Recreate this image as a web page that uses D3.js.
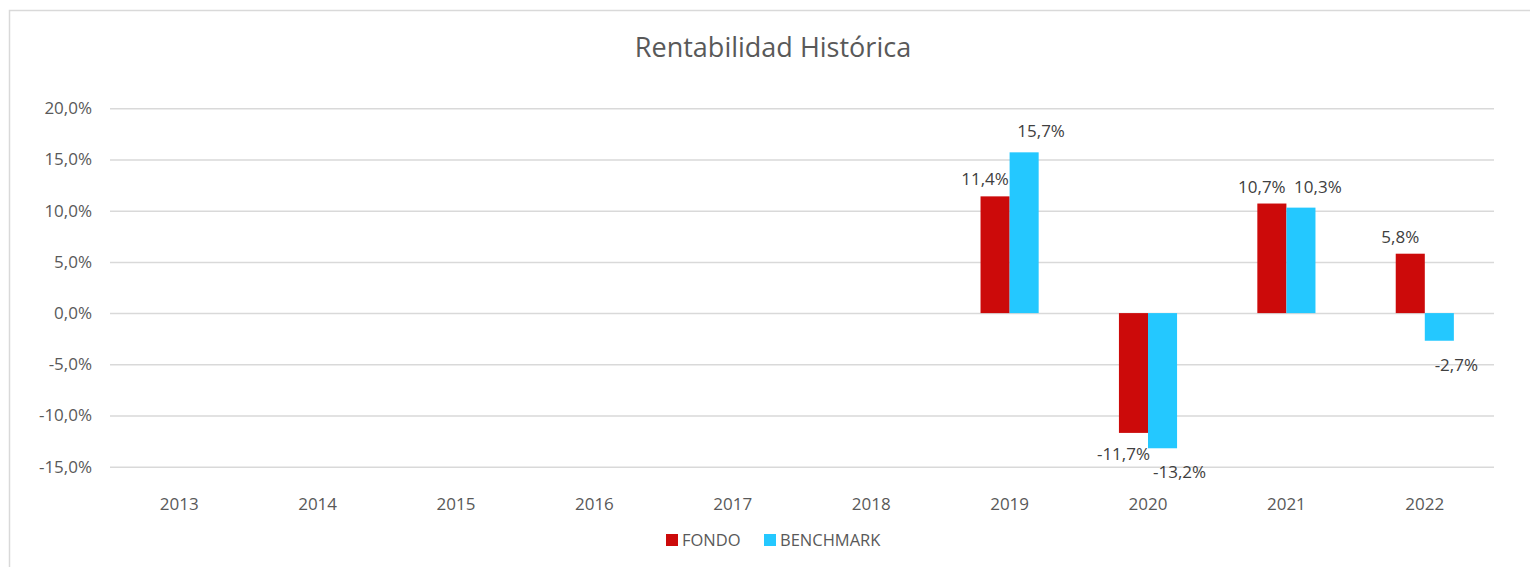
<!DOCTYPE html>
<html>
<head>
<meta charset="utf-8">
<script src="https://cdn.jsdelivr.net/npm/d3@7"></script>
<style>
  body { margin: 0; background: #fff; }
  svg { display: block; font-family: "Open Sans", sans-serif; }
</style>
</head>
<body>
<div class="chart"></div>
<script>
// data
const years = ["2013", "2014", "2015", "2016", "2017", "2018", "2019", "2020", "2021", "2022"];
const fondo = [null, null, null, null, null, null, 11.4, -11.7, 10.7, 5.8];
const benchmark = [null, null, null, null, null, null, 15.7, -13.2, 10.3, -2.7];
const yTicks = [-15, -10, -5, 0, 5, 10, 15, 20];
const seriesNames = ["FONDO", "BENCHMARK"];

const width = 1530, height = 567;
const margin = { top: 108, right: 36, bottom: 100, left: 110 };
const colors = { FONDO: "#cc0a0a", BENCHMARK: "#24c8ff" };
// label nudges per series (Excel had them moved a bit)
const labelDx = { FONDO: -10, BENCHMARK: 17 };
const labelDyPos = { FONDO: -11, BENCHMARK: -15 };
const labelDyNeg = { FONDO: 27, BENCHMARK: 30 };

const locale = d3.formatLocale({ decimal: ",", thousands: ".", grouping: [3], currency: ["", "€"], minus: "-" });
const pct = v => locale.format(".1f")(v) + "%";

const svg = d3.select(".chart").append("svg")
    .attr("width", width)
    .attr("height", height);

// chart frame
svg.append("rect")
    .attr("x", 9.5).attr("y", 10.5)
    .attr("width", 1540).attr("height", 620)
    .attr("fill", "#fff")
    .attr("stroke", "#d9d9d9")
    .attr("stroke-width", 1.5);

const plotW = 1494 - margin.left;

const x = d3.scaleBand()
    .domain(years)
    .range([margin.left, margin.left + plotW])
    .paddingInner(0.58)
    .paddingOuter(0.29);

const xs = d3.scaleBand()
    .domain(seriesNames)
    .range([0, x.bandwidth()]);

const y = d3.scaleLinear()
    .domain([-15, 20])
    .range([466.7, 108.3]);

// title
svg.append("text")
    .attr("x", 773)
    .attr("y", 57)
    .attr("text-anchor", "middle")
    .attr("fill", "#595959")
    .style("font-size", "27px")
    .text("Rentabilidad Histórica");

// y axis + gridlines
const yAxis = d3.axisLeft(y)
    .tickValues(yTicks)
    .tickSize(-plotW)
    .tickPadding(18)
    .tickFormat(pct);

const gy = svg.append("g")
    .attr("transform", `translate(${margin.left},0)`)
    .call(yAxis);
gy.select(".domain").remove();
gy.selectAll(".tick line").attr("stroke", "#d9d9d9").attr("stroke-width", 1.5);
gy.selectAll(".tick text")
    .attr("fill", "#595959")
    .style("font-size", "17px")
    .style("font-family", "'Open Sans', sans-serif");

// x axis labels
const xAxis = d3.axisBottom(x).tickSize(0).tickPadding(0);
const gx = svg.append("g")
    .attr("transform", "translate(0,498)")
    .call(xAxis);
gx.select(".domain").remove();
gx.selectAll(".tick text")
    .attr("fill", "#595959")
    .attr("dy", "0.71em")
    .style("font-size", "17px")
    .style("font-family", "'Open Sans', sans-serif");

// bars
const rows = years.map((yr, i) => ({ year: yr, FONDO: fondo[i], BENCHMARK: benchmark[i] }));
const points = [];
rows.forEach(r => seriesNames.forEach(s => {
    if (r[s] !== null) points.push({ year: r.year, series: s, value: r[s] });
}));

svg.append("g")
    .selectAll("rect")
    .data(points).enter()
    .append("rect")
    .attr("x", d => x(d.year) + xs(d.series))
    .attr("width", xs.bandwidth())
    .attr("y", d => y(Math.max(0, d.value)))
    .attr("height", d => Math.abs(y(d.value) - y(0)))
    .attr("fill", d => colors[d.series]);

// data labels
svg.append("g")
    .selectAll("text")
    .data(points).enter()
    .append("text")
    .attr("x", d => x(d.year) + xs(d.series) + xs.bandwidth() / 2 + labelDx[d.series])
    .attr("y", d => y(d.value) + (d.value >= 0 ? labelDyPos[d.series] : labelDyNeg[d.series]))
    .attr("text-anchor", "middle")
    .attr("fill", "#404040")
    .style("font-size", "17px")
    .text(d => pct(d.value));

// legend
const legend = svg.append("g").attr("transform", "translate(666,540)");
const legendX = { FONDO: 0, BENCHMARK: 98 };
seriesNames.forEach(s => {
    const g = legend.append("g").attr("transform", `translate(${legendX[s]},0)`);
    g.append("rect")
        .attr("x", 0).attr("y", -6)
        .attr("width", 12).attr("height", 12)
        .attr("fill", colors[s]);
    g.append("text")
        .attr("x", 16).attr("y", 0)
        .attr("dy", "0.35em")
        .attr("fill", "#595959")
        .style("font-size", "16.5px")
        .text(s);
});
</script>
</body>
</html>
